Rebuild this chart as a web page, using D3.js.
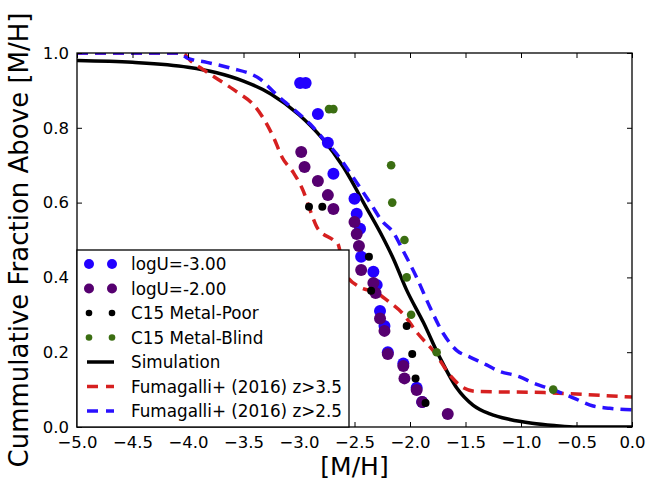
<!DOCTYPE html>
<html>
<head>
<meta charset="utf-8">
<script src="https://cdn.jsdelivr.net/npm/d3@7"></script>
<style>
  body { margin: 0; background: #fff; }
  svg { display: block; font-family: "DejaVu Sans", sans-serif; }
</style>
</head>
<body>
<div id="chart"></div>
<script>
// simulation curve
const simX = [-5.0, -4.5, -4.0, -3.75, -3.5, -3.25, -3.0, -2.8, -2.6, -2.4, -2.25, -2.15, -2.03, -1.88, -1.73, -1.58, -1.43, -1.28, -1.1, -0.9, -0.7, -0.5, 0.0];
const simY = [0.98, 0.975, 0.962, 0.948, 0.925, 0.89, 0.835, 0.775, 0.695, 0.59, 0.51, 0.45, 0.366, 0.28, 0.185, 0.105, 0.058, 0.035, 0.02, 0.01, 0.004, 0.0, 0.0];

// Fumagalli+ (2016) z>3.5
const redX = [-5.0, -4.05, -3.98, -3.86, -3.68, -3.53, -3.42, -3.23, -3.15, -3.05, -2.96, -2.9, -2.83, -2.69, -2.65, -2.59, -2.46, -2.31, -2.19, -2.07, -1.93, -1.78, -1.63, -1.52, -1.4, -0.79, -0.5, 0.0];
const redY = [1.0, 1.0, 0.98, 0.955, 0.92, 0.89, 0.865, 0.775, 0.72, 0.68, 0.63, 0.58, 0.53, 0.50, 0.49, 0.415, 0.375, 0.36, 0.335, 0.305, 0.25, 0.20, 0.135, 0.105, 0.095, 0.092, 0.088, 0.08];

// Fumagalli+ (2016) z>2.5
const blueX = [-5.0, -4.08, -4.01, -3.83, -3.62, -3.35, -3.2, -3.05, -2.9, -2.78, -2.66, -2.54, -2.45, -2.36, -2.25, -2.15, -2.06, -1.94, -1.82, -1.70, -1.58, -1.46, -1.31, -1.22, -1.01, -0.89, -0.71, -0.53, -0.35, -0.2, 0.0];
const blueY = [1.0, 1.0, 0.987, 0.975, 0.96, 0.93, 0.888, 0.85, 0.81, 0.77, 0.73, 0.68, 0.64, 0.60, 0.55, 0.52, 0.47, 0.40, 0.32, 0.25, 0.205, 0.187, 0.166, 0.152, 0.134, 0.118, 0.099, 0.078, 0.056, 0.05, 0.046];

// logU=-3.00 points
const u3X = [-2.99, -2.94, -2.83, -2.74, -2.69, -2.50, -2.48, -2.45, -2.44, -2.33, -2.30, -2.27, -2.23, -2.20, -2.06, -1.94, -1.89];
const u3Y = [0.92, 0.92, 0.837, 0.76, 0.677, 0.61, 0.57, 0.53, 0.455, 0.415, 0.38, 0.31, 0.27, 0.20, 0.17, 0.105, 0.067];

// logU=-2.00 points
const u2X = [-2.98, -2.95, -2.83, -2.74, -2.69, -2.50, -2.48, -2.46, -2.44, -2.33, -2.31, -2.27, -2.23, -2.20, -2.06, -2.05, -1.94, -1.89, -1.66];
const u2Y = [0.735, 0.695, 0.658, 0.62, 0.583, 0.548, 0.516, 0.484, 0.42, 0.385, 0.358, 0.29, 0.257, 0.195, 0.163, 0.13, 0.099, 0.067, 0.035];

// C15 Metal-Poor
const poorX = [-2.91, -2.79, -2.37, -2.35, -2.03, -1.98, -1.95, -1.86];
const poorY = [0.589, 0.589, 0.455, 0.364, 0.27, 0.195, 0.13, 0.064];

// C15 Metal-Blind
const blindX = [-2.73, -2.69, -2.17, -2.16, -2.05, -2.03, -1.99, -1.76, -0.71];
const blindY = [0.85, 0.85, 0.70, 0.60, 0.50, 0.40, 0.30, 0.20, 0.10];

const xTicks = [-5.0, -4.5, -4.0, -3.5, -3.0, -2.5, -2.0, -1.5, -1.0, -0.5, 0.0];
const yTicks = [0.0, 0.2, 0.4, 0.6, 0.8, 1.0];

const svgWidth = 652;
const svgHeight = 485;
const margin = { top: 53, left: 77, right: 20, bottom: 58 };
const chartWidth = 632 - margin.left;
const chartHeight = 427 - margin.top;

const colors = {
  u3: '#2200ff',
  u2: '#560070',
  poor: '#000000',
  blind: '#3b6e12',
  sim: '#000000',
  red: '#d62020',
  blue: '#2a10ff'
};

const svg = d3.select('#chart').append('svg')
  .attr('width', svgWidth)
  .attr('height', svgHeight);

const chartGroup = svg.append('g')
  .attr('transform', `translate(${margin.left}, ${margin.top})`);

const xScale = d3.scaleLinear().domain([-5, 0]).range([0, chartWidth]);
const yScale = d3.scaleLinear().domain([0, 1]).range([chartHeight, 0]);

svg.append('defs').append('clipPath').attr('id', 'plotClip')
  .append('rect').attr('width', chartWidth).attr('height', chartHeight);

const line = d3.line()
  .x(d => xScale(d[0]))
  .y(d => yScale(d[1]))
  .curve(d3.curveMonotoneX);

const lineGroup = chartGroup.append('g').attr('clip-path', 'url(#plotClip)');

lineGroup.append('path')
  .datum(d3.zip(simX, simY))
  .attr('d', line)
  .attr('fill', 'none')
  .attr('stroke', colors.sim)
  .attr('stroke-width', 3.5);

lineGroup.append('path')
  .datum(d3.zip(redX, redY))
  .attr('d', line)
  .attr('fill', 'none')
  .attr('stroke', colors.red)
  .attr('stroke-width', 3.5)
  .attr('stroke-dasharray', '11,7');

lineGroup.append('path')
  .datum(d3.zip(blueX, blueY))
  .attr('d', line)
  .attr('fill', 'none')
  .attr('stroke', colors.blue)
  .attr('stroke-width', 3.5)
  .attr('stroke-dasharray', '11,7');

function drawPoints(xs, ys, color, r) {
  chartGroup.append('g').selectAll('circle')
    .data(d3.zip(xs, ys))
    .enter()
    .append('circle')
    .attr('cx', d => xScale(d[0]))
    .attr('cy', d => yScale(d[1]))
    .attr('r', r)
    .attr('fill', color);
}

drawPoints(u3X, u3Y, colors.u3, 6);
drawPoints(u2X, u2Y, colors.u2, 6);
drawPoints(poorX, poorY, colors.poor, 4);
drawPoints(blindX, blindY, colors.blind, 4.3);

// axes, ticks pointing inward on all four sides
const fmt = d3.format('.1f');

chartGroup.append('g')
  .attr('transform', `translate(0, ${chartHeight})`)
  .call(d3.axisBottom(xScale).tickValues(xTicks).tickFormat(fmt).tickSizeInner(-5).tickSizeOuter(0).tickPadding(9));

chartGroup.append('g')
  .call(d3.axisLeft(yScale).tickValues(yTicks).tickFormat(fmt).tickSizeInner(-5).tickSizeOuter(0).tickPadding(8));

chartGroup.append('g')
  .call(d3.axisTop(xScale).tickValues(xTicks).tickFormat('').tickSizeInner(-5).tickSizeOuter(0));

chartGroup.append('g')
  .attr('transform', `translate(${chartWidth}, 0)`)
  .call(d3.axisRight(yScale).tickValues(yTicks).tickFormat('').tickSizeInner(-5).tickSizeOuter(0));

chartGroup.selectAll('.domain').remove();
chartGroup.selectAll('.tick line').attr('stroke', '#000').attr('stroke-width', 1);
chartGroup.selectAll('.tick text')
  .attr('fill', '#000')
  .style('font-family', '"DejaVu Sans", sans-serif')
  .style('font-size', '16.5px');

chartGroup.append('rect')
  .attr('width', chartWidth)
  .attr('height', chartHeight)
  .attr('fill', 'none')
  .attr('stroke', '#000')
  .attr('stroke-width', 1.3);

// axis labels
svg.append('text')
  .attr('x', margin.left + chartWidth / 2)
  .attr('y', 475)
  .attr('text-anchor', 'middle')
  .style('font-size', '25px')
  .text('[M/H]');

svg.append('text')
  .attr('transform', 'translate(28, 240) rotate(-90)')
  .attr('text-anchor', 'middle')
  .style('font-size', '26px')
  .text('Cummulative Fraction Above [M/H]');

// legend
const legendItems = [
  { label: 'logU=-3.00', type: 'dot', color: colors.u3, r: 5 },
  { label: 'logU=-2.00', type: 'dot', color: colors.u2, r: 5 },
  { label: 'C15 Metal-Poor', type: 'dot', color: colors.poor, r: 3.3 },
  { label: 'C15 Metal-Blind', type: 'dot', color: colors.blind, r: 3.3 },
  { label: 'Simulation', type: 'line', color: colors.sim },
  { label: 'Fumagalli+ (2016) z>3.5', type: 'dash', color: colors.red },
  { label: 'Fumagalli+ (2016) z>2.5', type: 'dash', color: colors.blue }
];

const legend = svg.append('g').attr('transform', 'translate(77, 250)');

legend.append('rect')
  .attr('width', 272)
  .attr('height', 177)
  .attr('fill', '#fff')
  .attr('stroke', '#000')
  .attr('stroke-width', 1.3);

legendItems.forEach(function(item, i) {
  const y = 14 + i * 24.5;
  const row = legend.append('g').attr('transform', `translate(0, ${y})`);
  if (item.type === 'dot') {
    row.append('circle').attr('cx', 12).attr('cy', 0).attr('r', item.r).attr('fill', item.color);
    row.append('circle').attr('cx', 35).attr('cy', 0).attr('r', item.r).attr('fill', item.color);
  } else {
    row.append('line')
      .attr('x1', 10).attr('x2', 37)
      .attr('y1', 0).attr('y2', 0)
      .attr('stroke', item.color)
      .attr('stroke-width', 3.5)
      .attr('stroke-dasharray', item.type === 'dash' ? '11,8' : null);
  }
  row.append('text')
    .attr('x', 54)
    .attr('y', 0)
    .attr('dy', '0.36em')
    .style('font-size', '16.8px')
    .text(item.label);
});
</script>
</body>
</html>
